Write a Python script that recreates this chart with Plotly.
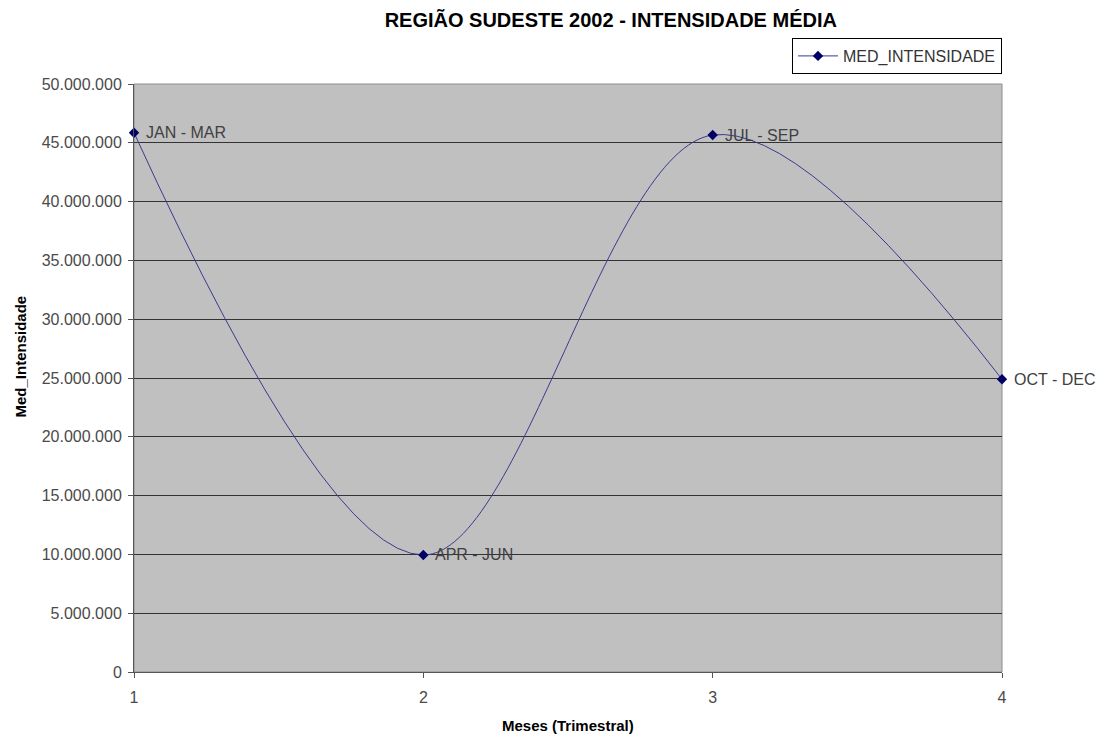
import plotly.graph_objects as go

quarters = [1, 2, 3, 4]
labels = ["JAN - MAR", "APR - JUN", "JUL - SEP", "OCT - DEC"]
med_intensidade = [45860000, 9950000, 45660000, 24890000]
y_ticks = [0, 5000000, 10000000, 15000000, 20000000, 25000000,
           30000000, 35000000, 40000000, 45000000, 50000000]

FONT = "Arial, Liberation Sans, sans-serif"

fig = go.Figure()
fig.add_trace(go.Scatter(
    x=quarters, y=med_intensidade, mode="lines+markers",
    name="MED_INTENSIDADE",
    line=dict(color="#3a3a90", width=1, shape="spline", smoothing=1.0),
    marker=dict(symbol="diamond", size=8, color="#000066"),
    cliponaxis=False,
))

annotations = [
    dict(x=q, y=v, xref="x", yref="y", text=t, showarrow=False,
         xanchor="left", yanchor="middle", xshift=10,
         font=dict(family=FONT, size=16, color="#404040"))
    for q, v, t in zip(quarters, med_intensidade, labels)
]
annotations.append(dict(
    x=-0.131, y=0.537, xref="paper", yref="paper", text="<b>Med_Intensidade</b>",
    textangle=-90, showarrow=False, xanchor="center", yanchor="middle",
    font=dict(family=FONT, size=15, color="#000000")))
annotations.append(dict(
    x=0.5, y=-0.0905, xref="paper", yref="paper", text="<b>Meses (Trimestral)</b>",
    showarrow=False, xanchor="center", yanchor="middle",
    font=dict(family=FONT, size=15, color="#000000")))

fig.update_layout(
    width=1104, height=738,
    paper_bgcolor="white", plot_bgcolor="#c0c0c0",
    margin=dict(l=126, r=110, t=76, b=74),
    separators=",.",
    font=dict(family=FONT, size=16, color="#4a4a4a"),
    title=dict(text="<b>REGIÃO SUDESTE 2002 - INTENSIDADE MÉDIA</b>",
               x=0.546, xanchor="center", y=0.984, yanchor="middle",
               font=dict(family=FONT, size=20, color="#000000")),
    showlegend=True,
    legend=dict(x=1.0, xanchor="right", y=1.017, yanchor="bottom",
                bgcolor="white", bordercolor="#000000", borderwidth=1,
                font=dict(family=FONT, size=16, color="#333333"),
                itemwidth=40),
    annotations=annotations,
    shapes=[dict(type="rect", xref="paper", yref="paper", x0=0, x1=1, y0=0, y1=1,
                 line=dict(color="#8c8c8c", width=1), layer="below")],
    xaxis=dict(range=[1, 4], tickvals=quarters, ticktext=[str(q) for q in quarters],
               showgrid=False, zeroline=False, showline=True, linecolor="#555555",
               linewidth=1, ticks="outside", ticklen=5, tickcolor="#555555",
               ticklabelstandoff=6,
               tickfont=dict(size=16, color="#4a4a4a")),
    yaxis=dict(range=[0, 50000000], tickvals=y_ticks, tickformat=",d",
               showgrid=True, gridcolor="#333333", gridwidth=1,
               zeroline=False, showline=True, linecolor="#555555", linewidth=1,
               ticks="outside", ticklen=5, tickcolor="#555555",
               ticklabelstandoff=3,
               tickfont=dict(size=16, color="#4a4a4a")),
)

fig.write_html("out.html")
